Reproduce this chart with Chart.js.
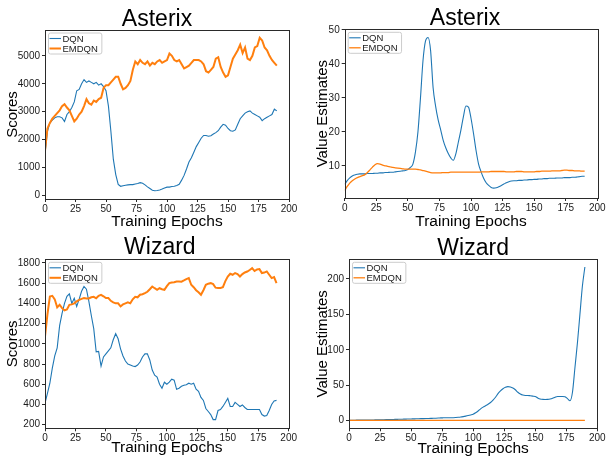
<!DOCTYPE html>
<html>
<head>
<meta charset="utf-8">
<script src="https://cdn.jsdelivr.net/npm/chart.js@4.4.0/dist/chart.umd.min.js"></script>
<style>
  html, body { margin: 0; padding: 0; background: #fff; width: 608px; height: 462px; overflow: hidden; }
  .panel { position: absolute; width: 304px; height: 231px; }
</style>
</head>
<body>
<div class="panel" style="left:0;top:0"><canvas id="astScores" width="304" height="231"></canvas></div>
<div class="panel" style="left:304px;top:0"><canvas id="astValues" width="304" height="231"></canvas></div>
<div class="panel" style="left:0;top:231px"><canvas id="wizScores" width="304" height="231"></canvas></div>
<div class="panel" style="left:304px;top:231px"><canvas id="wizValues" width="304" height="231"></canvas></div>
<script>
// training epochs (every 2nd epoch)
const epochs = [0,2,4,6,8,10,12,14,16,18,20,22,24,26,28,30,32,34,36,38,40,42,44,46,48,50,52,54,56,58,
  60,62,64,66,68,70,72,74,76,78,80,82,84,86,88,90,92,94,96,98,100,102,104,106,108,110,112,114,116,118,
  120,122,124,126,128,130,132,134,136,138,140,142,144,146,148,150,152,154,156,158,160,162,164,166,168,170,
  172,174,176,178,180,182,184,186,188,190];
const seriesNames = ['DQN', 'EMDQN'];
const xTicks = [0, 25, 50, 75, 100, 125, 150, 175, 200];

// Asterix - scores
const asterixDqnScores = [1500,2300,2600,2700,2780,2820,2820,2780,2650,2900,
  3000,3150,3350,3750,3800,4000,4150,4050,4100,4050,
  4000,4050,3950,4000,3900,3750,3200,2300,1300,750,
  400,330,350,370,380,390,390,410,430,460,
  440,380,310,250,190,170,180,200,230,270,
  300,300,320,330,360,400,550,720,950,1200,
  1350,1550,1750,1900,2050,2150,2150,2120,2140,2200,
  2250,2320,2450,2550,2520,2400,2320,2300,2350,2550,
  2750,2850,2950,3000,3030,2950,2900,2850,2800,2680,
  2750,2800,2850,2900,3090,3030];
const asterixEmdqnScores = [1600,2400,2600,2750,2850,2950,3050,3200,3270,3150,
  3050,2850,2650,2750,2900,3000,3200,3450,3300,3250,
  3400,3350,3450,3500,3850,3950,3950,4050,4150,4250,
  4250,4000,3800,3850,3950,4100,4500,4800,4700,4850,
  4750,4700,4800,4650,4750,4700,4800,4850,4750,4800,
  4850,5080,5000,4850,4800,4850,4700,4550,4600,4650,
  4750,4850,4850,4850,4800,4700,4450,4400,4500,4600,
  4900,4950,4600,4400,4250,4300,4600,4900,5050,5200,
  5400,5100,5300,4900,4850,5000,5300,5350,5650,5550,
  5300,5200,5000,4850,4750,4650];
const asterixScoreTicks = [0, 1000, 2000, 3000, 4000, 5000];

// Asterix - value estimates
const asterixDqnValues = [4.5,5.6,6.4,7.0,7.3,7.5,7.6,7.6,7.6,7.7,
  7.7,7.7,7.8,7.8,7.9,7.9,8.0,8.0,8.1,8.1,
  8.2,8.3,8.4,8.5,8.6,8.9,9.5,10.5,14,20,
  30,41,46.8,47.8,44,33,27.5,23.5,20.6,17.5,
  15.3,13.6,12.3,11.6,13.5,17,20.5,24.5,27.6,27.3,
  24,19.5,14.5,10.5,8.2,6.3,5,4.2,3.6,3.4,
  3.5,3.8,4.2,4.6,5.0,5.3,5.5,5.6,5.6,5.7,
  5.7,5.8,5.8,5.9,5.9,6.0,6.0,6.1,6.1,6.2,
  6.2,6.3,6.3,6.3,6.4,6.4,6.4,6.5,6.5,6.5,
  6.6,6.6,6.7,6.8,6.9,6.9];
const asterixEmdqnValues = [2.7,3.9,4.9,5.6,6.1,6.5,6.8,7.1,7.4,8.0,
  8.8,9.6,10.3,10.6,10.5,10.2,10.0,9.8,9.7,9.5,
  9.4,9.3,9.2,9.1,9.0,9.0,9.0,9.0,9.0,8.9,
  8.8,8.6,8.4,8.2,8.0,7.9,7.9,7.9,7.9,8.0,
  8.0,8.0,8.1,8.1,8.1,8.1,8.1,8.1,8.1,8.1,
  8.1,8.1,8.1,8.1,8.2,8.2,8.2,8.2,8.3,8.3,
  8.3,8.3,8.3,8.3,8.2,8.2,8.2,8.2,8.3,8.3,
  8.3,8.2,8.2,8.2,8.2,8.2,8.3,8.3,8.4,8.4,
  8.4,8.4,8.5,8.5,8.5,8.5,8.6,8.7,8.7,8.6,
  8.6,8.5,8.5,8.5,8.4,8.4];
const asterixValueTicks = [10, 20, 30, 40, 50];

// Wizard - scores
const wizardDqnScores = [414,510,610,760,880,960,1180,1300,1400,1470,
  1495,1400,1450,1370,1440,1520,1567,1540,1420,1280,
  1150,920,925,780,870,900,930,960,1040,1100,
  1050,950,880,830,800,790,780,775,790,820,
  870,900,900,840,740,690,670,600,560,620,
  600,620,650,640,550,560,580,590,595,610,
  600,610,550,530,470,440,360,330,300,250,
  250,340,350,380,420,460,380,380,420,400,
  380,395,370,350,350,350,350,350,350,300,
  285,290,340,400,435,440];
const wizardEmdqnScores = [1073,1290,1468,1475,1440,1360,1386,1353,1330,1340,
  1386,1390,1400,1420,1435,1445,1452,1448,1448,1460,
  1465,1450,1475,1485,1470,1452,1452,1425,1410,1400,
  1400,1370,1390,1400,1410,1400,1440,1465,1460,1485,
  1490,1501,1515,1540,1567,1550,1534,1550,1540,1534,
  1570,1600,1607,1610,1617,1617,1615,1627,1640,1650,
  1584,1560,1530,1510,1485,1530,1584,1595,1600,1590,
  1555,1551,1553,1560,1620,1665,1693,1683,1700,1690,
  1666,1690,1706,1715,1730,1749,1720,1735,1739,1700,
  1705,1716,1683,1650,1660,1600];
const wizardScoreTicks = [200, 400, 600, 800, 1000, 1200, 1400, 1600, 1800];

// Wizard - value estimates
const wizardDqnValues = [0.5,0.5,0.5,0.6,0.6,0.7,0.7,0.8,0.8,0.9,
  0.9,1.0,1.0,1.1,1.2,1.3,1.4,1.5,1.6,1.7,
  1.8,1.9,2.0,2.1,2.2,2.3,2.4,2.5,2.6,2.7,
  2.8,2.9,3.0,3.1,3.2,3.4,3.6,3.8,3.9,4.0,
  4.0,4.0,4.1,4.3,4.6,5.0,5.6,6.3,7.1,8.0,
  9.0,11,13.5,16.5,19,21,23,25.5,29,33,
  38,42,45,47,48,47.5,46,43.5,40,37.5,
  36,35.5,35.5,35,34.5,34,32,30.5,30,29.8,
  30,30.5,31.5,33,34,34,34,33.5,31,28,
  40,75,110,150,190,217];
const wizardEmdqnValues = [0.3,0.3,0.3,0.3,0.3,0.3,0.3,0.3,0.3,0.3,
  0.3,0.3,0.3,0.3,0.3,0.3,0.3,0.3,0.3,0.3,
  0.3,0.3,0.3,0.3,0.3,0.3,0.3,0.3,0.3,0.3,
  0.3,0.3,0.3,0.3,0.3,0.3,0.3,0.3,0.3,0.3,
  0.3,0.3,0.3,0.3,0.3,0.3,0.3,0.3,0.3,0.3,
  0.3,0.3,0.3,0.3,0.3,0.3,0.3,0.3,0.3,0.3,
  0.3,0.3,0.3,0.3,0.3,0.3,0.3,0.3,0.3,0.3,
  0.3,0.3,0.3,0.3,0.3,0.3,0.3,0.3,0.3,0.3,
  0.3,0.3,0.3,0.3,0.3,0.3,0.3,0.3,0.3,0.3,
  0.3,0.3,0.3,0.3,0.3,0.3];
const wizardValueTicks = [0, 50, 100, 150, 200];

const FONT = '"Liberation Sans", Arial, Helvetica, sans-serif';
const BLUE = '#1f77b4', ORANGE = '#ff7f0e', INK = '#1a1a1a';

// box around the plot (all four spines)
const frame = {
  id: 'frame',
  afterDraw(chart) {
    const { ctx, chartArea: a } = chart;
    ctx.save();
    ctx.strokeStyle = '#2a2a2a';
    ctx.lineWidth = 1;
    ctx.strokeRect(Math.round(a.left) + 0.5, Math.round(a.top) + 0.5,
      Math.round(a.right - a.left), Math.round(a.bottom - a.top));
    ctx.restore();
  }
};

// title drawn over the plot, slightly shifted like in the figure
const panelTitle = {
  id: 'panelTitle',
  afterDraw(chart, args, opts) {
    const { ctx, chartArea: a } = chart;
    ctx.save();
    ctx.font = '23px ' + FONT;
    ctx.fillStyle = '#000';
    ctx.textAlign = 'center';
    ctx.textBaseline = 'alphabetic';
    ctx.fillText(opts.text, (a.left + a.right) / 2 + opts.dx, opts.baseline);
    ctx.restore();
  }
};

// small legend box in the upper left corner of the plot
const cornerLegend = {
  id: 'cornerLegend',
  afterDraw(chart) {
    const { ctx, chartArea: a } = chart;
    const x = a.left + 3, y = a.top + 2.5;
    ctx.save();
    ctx.font = '9.5px ' + FONT;
    const tw = Math.max(...chart.data.datasets.map(d => ctx.measureText(d.label).width));
    const w = 15 + tw + 3, h = 21;
    ctx.beginPath();
    ctx.roundRect(x + 0.5, y + 0.5, w, h, 2);
    ctx.fillStyle = 'rgba(255,255,255,0.85)';
    ctx.fill();
    ctx.strokeStyle = '#cccccc';
    ctx.lineWidth = 1;
    ctx.stroke();
    chart.data.datasets.forEach((d, i) => {
      const ry = y + 6 + i * 10;
      ctx.beginPath();
      ctx.moveTo(x + 1.5, ry);
      ctx.lineTo(x + 13, ry);
      ctx.strokeStyle = d.borderColor;
      ctx.lineWidth = d.borderWidth;
      ctx.stroke();
      ctx.fillStyle = INK;
      ctx.textBaseline = 'middle';
      ctx.fillText(d.label, x + 14.5, ry + 0.5);
    });
    ctx.restore();
  }
};

function points(vals) {
  return epochs.map((e, i) => ({ x: e, y: vals[i] }));
}

function makePanel(id, p) {
  const tickFont = { family: FONT, size: 10 };
  return new Chart(document.getElementById(id), {
    type: 'line',
    data: {
      datasets: [
        { label: seriesNames[0], data: points(p.dqn), borderColor: BLUE, borderWidth: 1.1, order: 1 },
        { label: seriesNames[1], data: points(p.emdqn), borderColor: ORANGE, borderWidth: p.orangeWidth, order: 0 }
      ]
    },
    options: {
      responsive: false,
      animation: false,
      events: [],
      elements: { point: { radius: 0 }, line: { tension: p.tension, cubicInterpolationMode: p.tension ? 'monotone' : 'default' } },
      layout: { padding: { left: 0, top: p.top, right: p.right, bottom: 0 } },
      plugins: {
        legend: { display: false },
        tooltip: { enabled: false },
        panelTitle: { text: p.title, dx: p.titleDx, baseline: p.titleBase }
      },
      scales: {
        x: {
          type: 'linear', min: 0, max: 200,
          afterBuildTicks: s => { s.ticks = xTicks.map(v => ({ value: v })); },
          afterFit: s => { s.height = p.xh; },
          ticks: { autoSkip: false, maxRotation: 0, padding: 1, font: tickFont, color: INK, callback: v => String(v) },
          grid: { display: true, drawOnChartArea: false, drawTicks: true, tickLength: 3, color: '#2a2a2a' },
          border: { display: false },
          title: { display: true, text: 'Training Epochs', font: { family: FONT, size: 15.5 }, color: '#000', padding: { top: 0, bottom: p.xTitlePad } }
        },
        y: {
          type: 'linear', min: p.yMin, max: p.yMax,
          afterBuildTicks: s => { s.ticks = p.yTicks.map(v => ({ value: v })); },
          afterFit: s => { s.width = p.yw; },
          ticks: { autoSkip: false, padding: 2, font: tickFont, color: INK, callback: v => String(v) },
          grid: { display: true, drawOnChartArea: false, drawTicks: true, tickLength: 3, color: '#2a2a2a' },
          border: { display: false },
          title: { display: true, text: p.ylabel, font: { family: FONT, size: 15 }, color: '#000', padding: { top: p.yTitlePad, bottom: 0 } }
        }
      }
    },
    plugins: [frame, panelTitle, cornerLegend]
  });
}

makePanel('astScores', {
  title: 'Asterix', titleDx: -10, titleBase: 26, ylabel: 'Scores',
  dqn: asterixDqnScores, emdqn: asterixEmdqnScores, orangeWidth: 2, tension: 0,
  yMin: -125, yMax: 5925, yTicks: asterixScoreTicks,
  top: 30, right: 15, yw: 45, xh: 32, yTitlePad: 4, xTitlePad: 0
});
makePanel('astValues', {
  title: 'Asterix', titleDx: -6, titleBase: 25, ylabel: 'Value Estimates',
  dqn: asterixDqnValues, emdqn: asterixEmdqnValues, orangeWidth: 1.3, tension: 0.4,
  yMin: 0.5, yMax: 50.2, yTicks: asterixValueTicks,
  top: 29.3, right: 10.7, yw: 40.7, xh: 33, yTitlePad: 10, xTitlePad: 0
});
makePanel('wizScores', {
  title: 'Wizard', titleDx: -7, titleBase: 23.3, ylabel: 'Scores',
  dqn: wizardDqnScores, emdqn: wizardEmdqnScores, orangeWidth: 2, tension: 0,
  yMin: 164, yMax: 1836, yTicks: wizardScoreTicks,
  top: 28.3, right: 15.3, yw: 45, xh: 33.7, yTitlePad: 4, xTitlePad: 5
});
makePanel('wizValues', {
  title: 'Wizard', titleDx: 0, titleBase: 24, ylabel: 'Value Estimates',
  dqn: wizardDqnValues, emdqn: wizardEmdqnValues, orangeWidth: 1.3, tension: 0.4,
  yMin: -10.9, yMax: 227.8, yTicks: wizardValueTicks,
  top: 28.3, right: 10.7, yw: 45, xh: 33.7, yTitlePad: 10, xTitlePad: 4
});
</script>
</body>
</html>
